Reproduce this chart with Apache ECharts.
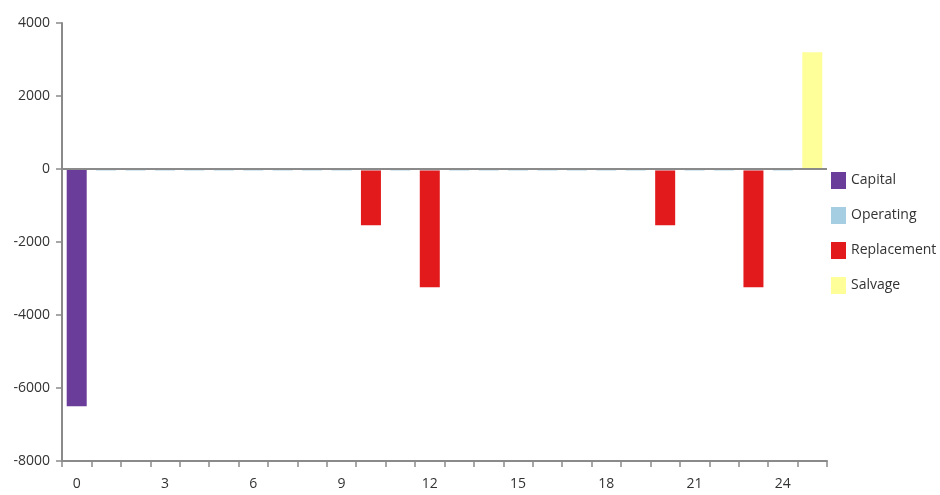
<!DOCTYPE html>
<html>
<head>
<meta charset="utf-8">
<script src="https://cdn.jsdelivr.net/npm/echarts@6/dist/echarts.min.js"></script>
<style>html,body{margin:0;padding:0;background:#fff}#c{width:940px;height:495px}</style>
</head>
<body>
<div id="c"></div>
<script>
var years = ['0','1','2','3','4','5','6','7','8','9','10','11','12','13','14','15','16','17','18','19','20','21','22','23','24','25'];
var capital =     [-6500,0,0,0,0,0,0,0,0,0,0,0,0,0,0,0,0,0,0,0,0,0,0,0,0,0];
var operating =   [0,-40,-40,-40,-40,-40,-40,-40,-40,-40,-40,-40,-40,-40,-40,-40,-40,-40,-40,-40,-40,-40,-40,-40,-40,0];
var replacement = [0,0,0,0,0,0,0,0,0,0,-1500,0,-3200,0,0,0,0,0,0,0,-1500,0,0,-3200,0,0];
var salvage =     [0,0,0,0,0,0,0,0,0,0,0,0,0,0,0,0,0,0,0,0,0,0,0,0,0,3200];
var seriesNames = ['Capital','Operating','Replacement','Salvage'];
var colors = ['#6a3d9a','#a6cee3','#e31a1c','#ffff99'];
var yTicks = {min:-8000, max:4000, interval:2000};

var font = "'Open Sans', sans-serif";
var chart = echarts.init(document.getElementById('c'), null, {renderer:'canvas'});
function mk(name, data, i){
  var s = {name:name, type:'bar', stack:'all', data:data, barWidth:20,
    itemStyle:{color:colors[i]}};
  if (i === 0) {
    s.markLine = {silent:true, symbol:'none', label:{show:false},
      lineStyle:{color:'#8a8a8a', width:2, type:'solid'},
      data:[{yAxis:0}], animation:false};
  }
  return s;
}
chart.setOption({
  animation:false,
  color: colors,
  grid:{left:62, right:113, top:23, bottom:34, containLabel:false},
  legend:{orient:'vertical', left:831, top:172, padding:0, itemWidth:15, itemHeight:17, itemGap:18,
    icon:'rect', data:seriesNames,
    textStyle:{fontFamily:font, fontSize:14, color:'#333'}},
  xAxis:{type:'category', data:years, boundaryGap:true,
    axisLine:{onZero:false, lineStyle:{color:'#8a8a8a', width:2}},
    axisTick:{show:true, interval:0, length:6, lineStyle:{color:'#8a8a8a', width:1.5}},
    axisLabel:{interval:2, margin:16, fontFamily:font, fontSize:14, color:'#333'}},
  yAxis:{type:'value', min:yTicks.min, max:yTicks.max, interval:yTicks.interval,
    splitLine:{show:false},
    axisLine:{show:true, lineStyle:{color:'#8a8a8a', width:2}},
    axisTick:{show:true, length:6, lineStyle:{color:'#8a8a8a', width:1.5}},
    axisLabel:{margin:12, fontFamily:font, fontSize:14, color:'#333',
      formatter:function(v){return String(v);}}},
  series:[mk('Capital',capital,0), mk('Operating',operating,1), mk('Replacement',replacement,2), mk('Salvage',salvage,3)]
});
</script>
</body>
</html>
